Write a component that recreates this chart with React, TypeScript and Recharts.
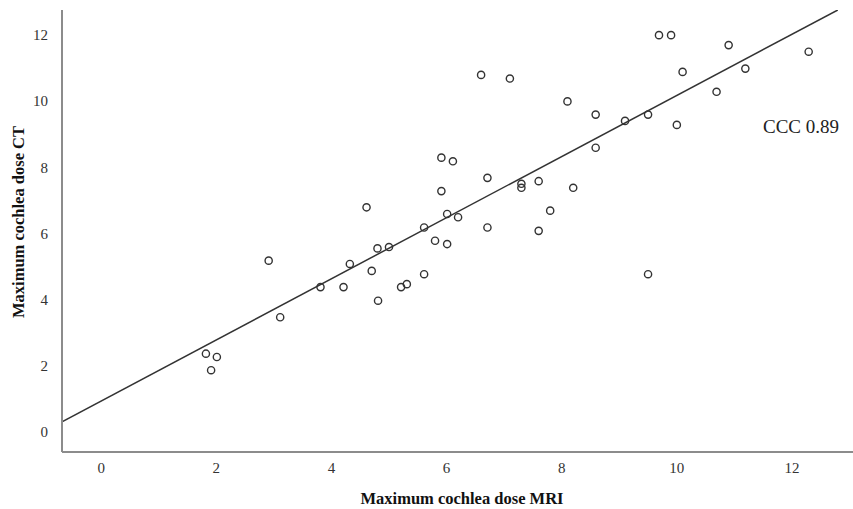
import React from "react";
import {
  ScatterChart,
  Scatter,
  XAxis,
  YAxis,
  ReferenceLine,
} from "recharts";

// Maximum cochlea dose measured on MRI vs CT
const mriDose = [
  1.82, 2.01, 1.91, 2.91, 3.11,
  6.6, 7.1, 8.1, 8.59, 8.59, 5.91, 6.11, 6.71, 7.3, 7.3, 7.6, 8.2, 5.91, 4.61, 7.8,
  6.01, 6.2, 5.61, 6.71, 7.6, 5.8, 6.01, 4.8, 5.0,
  4.32, 4.7, 3.81, 4.21, 4.81, 5.21, 5.31, 5.61,
  9.69, 9.9, 10.9, 12.29, 10.1, 11.19, 10.69, 9.1, 9.5, 10.0,
  9.5,
];
const ctDose = [
  2.37, 2.27, 1.87, 5.18, 3.47,
  10.79, 10.68, 9.99, 9.59, 8.59, 8.29, 8.18, 7.68, 7.5, 7.38, 7.58, 7.38, 7.28, 6.79, 6.69,
  6.59, 6.49, 6.18, 6.18, 6.08, 5.78, 5.68, 5.55, 5.59,
  5.08, 4.87, 4.38, 4.38, 3.97, 4.38, 4.47, 4.77,
  11.99, 11.99, 11.69, 11.49, 10.88, 10.98, 10.28, 9.4, 9.59, 9.28,
  4.77,
];

const xTicks = [0, 2, 4, 6, 8, 10, 12];
const yTicks = [0, 2, 4, 6, 8, 10, 12];
const xDomain: [number, number] = [-0.68, 13.06];
const yDomain: [number, number] = [-0.6, 12.75];

// fitted line
const fitIntercept = 0.94;
const fitSlope = 0.923;
const cccText = "CCC 0.89";

const points = mriDose.map((x, i) => ({ x, y: ctDose[i] }));
const fitEnd = (yDomain[1] - fitIntercept) / fitSlope;
const fitSegment = [
  { x: xDomain[0], y: fitIntercept + fitSlope * xDomain[0] },
  { x: fitEnd, y: fitIntercept + fitSlope * fitEnd },
];

const FONT = "'Liberation Serif', 'Times New Roman', serif";
const tickStyle = { fill: "#333", fontSize: 15, fontFamily: FONT };

const OpenCircle = (props: any) => (
  <circle cx={props.cx} cy={props.cy} r={3.6} fill="none" stroke="#333" strokeWidth={1.4} />
);

export default function App() {
  return (
    <div style={{ position: "absolute", left: 0, top: 0, background: "#fff" }}>
      <ScatterChart
        width={853}
        height={509}
        margin={{ top: 10, right: 0, left: 0, bottom: 0 }}
        style={{ fontFamily: FONT }}
      >
        <XAxis
          type="number"
          dataKey="x"
          domain={xDomain}
          ticks={xTicks}
          allowDataOverflow
          height={57}
          axisLine={{ stroke: "#8c8c8c", strokeWidth: 2 }}
          tickLine={false}
          tickSize={6}
          tickMargin={4}
          tick={tickStyle}
          label={{
            content: () => (
              <text
                x={462}
                y={498}
                textAnchor="middle"
                dominantBaseline="central"
                fill="#111"
                fontSize={16.5}
                fontWeight="bold"
                fontFamily={FONT}
              >
                Maximum cochlea dose MRI
              </text>
            ),
          }}
        />
        <YAxis
          type="number"
          dataKey="y"
          domain={yDomain}
          ticks={yTicks}
          allowDataOverflow
          width={62}
          axisLine={{ stroke: "#8c8c8c", strokeWidth: 2 }}
          tickLine={false}
          tickSize={6}
          tickMargin={8}
          tick={tickStyle}
          label={{
            content: () => (
              <text
                x={18}
                y={222}
                transform="rotate(-90 18 222)"
                textAnchor="middle"
                dominantBaseline="central"
                fill="#111"
                fontSize={16.5}
                fontWeight="bold"
                fontFamily={FONT}
              >
                Maximum cochlea dose CT
              </text>
            ),
          }}
        />
        <ReferenceLine
          segment={fitSegment}
          stroke="#333"
          strokeWidth={1.5}
          ifOverflow="hidden"
        />
        <Scatter data={points} shape={OpenCircle} isAnimationActive={false} />
        <text
          x={801}
          y={126}
          textAnchor="middle"
          dominantBaseline="central"
          fill="#222"
          fontSize={19}
          fontFamily={FONT}
        >
          {cccText}
        </text>
      </ScatterChart>
    </div>
  );
}
